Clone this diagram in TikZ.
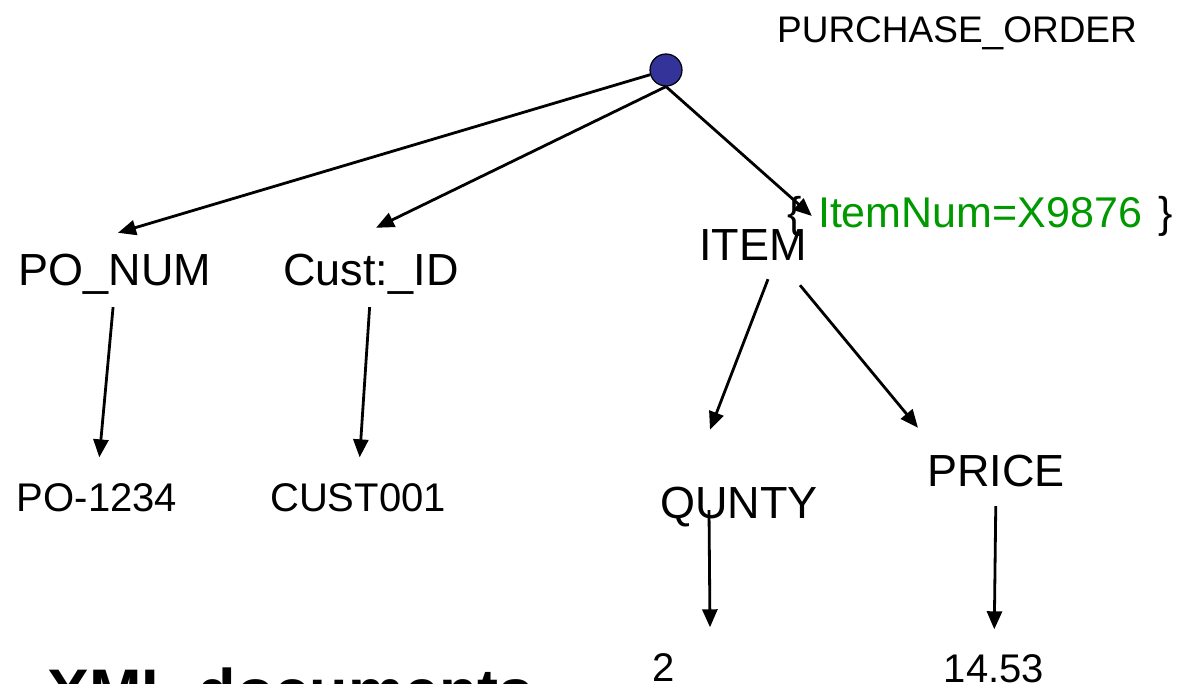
\documentclass[tikz,border=0pt]{standalone}
\usepackage{fontspec}
\setmainfont{Liberation Sans}
\usepackage{tikz}
\usetikzlibrary{arrows.meta,positioning}

\definecolor{nodeblue}{HTML}{333399}
\definecolor{attrgreen}{HTML}{009900}

\tikzset{
    tag/.style={font=\fontsize{45}{45}\selectfont, inner sep=0pt, text height=32pt, text depth=0pt},
    val/.style={font=\fontsize{40}{40}\selectfont, inner sep=0pt, text height=29pt, text depth=0pt},
    link/.style={-{Triangle[length=18pt,width=15pt]}, line width=2.8pt}
}

\begin{document}
\begin{tikzpicture}[x=1pt, y=1pt]
        % Page Frame
        \useasboundingbox (0,0) rectangle (1177,-684);
        \clip (0,0) rectangle (1177,-684);

        % Root Element
        \node[circle, draw, line width=1.2pt, fill=nodeblue, minimum size=32pt, inner sep=0pt] (root) at (666,-70) {};
        \node[font=\fontsize{37}{37}\selectfont, inner sep=0pt, text height=26.5pt, text depth=0pt] (purchase) at (957,-29) {PURCHASE\_ORDER};

        % Child Elements
        \node[tag] (ponum) at (115,-270) {PO\_NUM};
        \node[tag] (custid) at (371,-270) {Cust:\_ID};
        \node[tag] (item) at (753,-245) {ITEM};
        \node[font=\fontsize{43}{43}\selectfont, inner sep=0pt, text height=31pt, text depth=0pt, text=attrgreen] (attr) at (980,-212) {ItemNum=X9876};
        \node[font=\fontsize{43}{43}\selectfont, inner sep=0pt, left=16pt of attr.base west, anchor=base east] (lbrace) {\{};
        \node[font=\fontsize{43}{43}\selectfont, inner sep=0pt, right=16pt of attr.base east, anchor=base west] (rbrace) {\}};

        % Item Elements
        \node[tag] (qunty) at (739,-502) {QUNTY};
        \node[tag] (price) at (996,-470) {PRICE};

        % Values
        \node[val] (povalue) at (97,-497) {PO-1234};
        \node[val] (custvalue) at (358,-497) {CUST001};
        \node[val] (qval) at (664,-667) {2};
        \node[val] (pval) at (994,-668) {14.53};

        % Title
        \node[font=\fontsize{63}{63}\selectfont\bfseries, inner sep=0pt, anchor=base west] (title) at (47,-713) {XML documents};

        % Edges
        \draw[link] (root) -- ([xshift=3pt,yshift=21pt]ponum.north);
        \draw[link] (root.south) -- ([xshift=5pt,yshift=26pt]custid.north);
        \draw[link] (root.south) -- ([xshift=-6pt,yshift=-4pt]attr.west);
        \draw[link, shorten <=21pt, shorten >=25pt] (ponum.south) -- (povalue.north);
        \draw[link, shorten <=21pt, shorten >=25pt] (custid.south) -- (custvalue.north);
        \draw[link] ([xshift=15pt,yshift=-18pt]item.south) -- ([xshift=-29pt,yshift=56pt]qunty.north);
        \draw[link] ([xshift=47pt,yshift=-24pt]item.south) -- ([xshift=-78pt,yshift=26pt]price.north);
        \draw[link] ([xshift=-30pt,yshift=8pt]qunty.south) -- ([xshift=46pt,yshift=25pt]qval.north);
        \draw[link, shorten <=20pt, shorten >=24pt] (price.south) -- (pval.north);

    \end{tikzpicture}
\end{document}
